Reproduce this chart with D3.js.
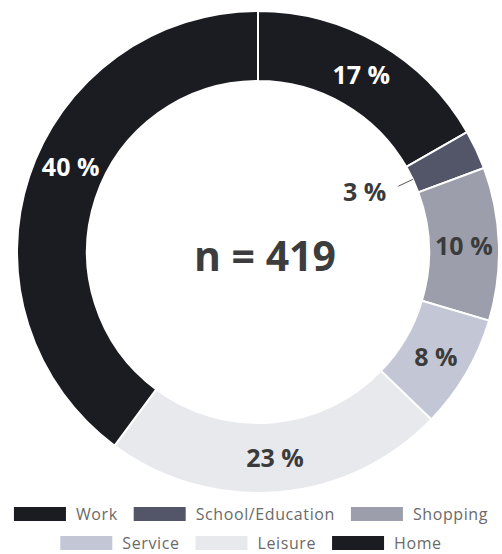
<!DOCTYPE html>
<html>
<head>
<meta charset="utf-8">
<script src="https://cdn.jsdelivr.net/npm/d3@7"></script>
<style>
  html, body { margin: 0; padding: 0; background: #fff; }
  svg { display: block; }
</style>
</head>
<body>
<svg id="chart" width="502" height="554"></svg>
<script>
// Trip purposes (respondent counts)
const categories = ["Work", "School/Education", "Shopping", "Service", "Leisure", "Home"];
const counts = [70, 11, 43, 32, 96, 167];
const colors = ["#1b1c21", "#525668", "#9c9fab", "#c2c6d5", "#e8e9ed", "#1b1c21"];
const labelColors = ["#ffffff", "#3b3b3b", "#3b3b3b", "#3b3b3b", "#3b3b3b", "#ffffff"];

const total = d3.sum(counts);
const data = categories.map((c, i) => ({ name: c, value: counts[i], color: colors[i], text: labelColors[i] }));

const svg = d3.select("#chart");
const cx = 258, cy = 252;
const outerR = 241, innerR = 171;

const pie = d3.pie().value(d => d.value).sort(null);
const arc = d3.arc().innerRadius(innerR).outerRadius(outerR);

const g = svg.append("g").attr("transform", `translate(${cx},${cy})`);
const arcs = pie(data);

g.selectAll("path.slice")
  .data(arcs)
  .join("path")
  .attr("class", "slice")
  .attr("d", arc)
  .attr("fill", d => d.data.color)
  .attr("stroke", "#fff")
  .attr("stroke-width", 2);

const pct = d => Math.round(d.data.value / total * 100) + " %";

// Small slices get their label inside the hole with a leader line
const smallLimit = 0.05;
// Home label sits slightly higher along its ring
const angleShift = { "Home": 0.11 };

arcs.forEach(d => {
  const share = d.data.value / total;
  const mid = (d.startAngle + d.endAngle) / 2 + (angleShift[d.data.name] || 0);
  if (share < smallLimit) {
    const p1 = [Math.sin(mid) * innerR, -Math.cos(mid) * innerR];
    const p2 = [Math.sin(mid) * (innerR - 16), -Math.cos(mid) * (innerR - 16)];
    g.append("line")
      .attr("x1", p1[0]).attr("y1", p1[1])
      .attr("x2", p2[0]).attr("y2", p2[1])
      .attr("stroke", "#555").attr("stroke-width", 1);
    g.append("text")
      .attr("x", p2[0] - 12).attr("y", p2[1] + 8)
      .attr("text-anchor", "end")
      .attr("dominant-baseline", "middle")
      .attr("font-family", "'Open Sans', sans-serif")
      .attr("font-weight", 700)
      .attr("font-size", 25)
      .attr("fill", "#3b3b3b")
      .text(pct(d));
  } else {
    const x = Math.sin(mid) * 206, y = -Math.cos(mid) * 206;
    g.append("text")
      .attr("x", x).attr("y", y)
      .attr("text-anchor", "middle")
      .attr("dominant-baseline", "central")
      .attr("font-family", "'Open Sans', sans-serif")
      .attr("font-weight", 700)
      .attr("font-size", 25)
      .attr("fill", d.data.text)
      .text(pct(d));
  }
});

// Sample size in the centre
g.append("text")
  .attr("x", 7).attr("y", 3)
  .attr("text-anchor", "middle")
  .attr("dominant-baseline", "central")
  .attr("font-family", "'Open Sans', sans-serif")
  .attr("font-weight", 700)
  .attr("font-size", 41)
  .attr("fill", "#3d3d3d")
  .text("n = " + total);

// Legend: flowing rows, centred
const legend = svg.append("g");
const swW = 52, swH = 14, gapText = 10, gapItem = 16, maxW = 482, legCx = 251;
const rowY = [514, 543];
const items = data.map(d => {
  const it = legend.append("g");
  it.append("rect").attr("width", swW).attr("height", swH).attr("y", -swH / 2).attr("fill", d.color);
  const t = it.append("text")
    .attr("x", swW + gapText)
    .attr("dominant-baseline", "central")
    .attr("font-family", "'Open Sans', sans-serif")
    .attr("font-size", 16)
    .attr("letter-spacing", 0.6)
    .attr("fill", "#6a6a6a")
    .text(d.name);
  return { g: it, w: swW + gapText + t.node().getComputedTextLength() };
});
const rows = [[]];
let cur = 0;
items.forEach(it => {
  const add = (rows[rows.length - 1].length ? gapItem : 0) + it.w;
  if (cur + add > maxW && rows[rows.length - 1].length) { rows.push([it]); cur = it.w; }
  else { rows[rows.length - 1].push(it); cur += add; }
});
rows.forEach((row, r) => {
  const width = d3.sum(row, it => it.w) + gapItem * (row.length - 1);
  let x = legCx - width / 2;
  row.forEach(it => {
    it.g.attr("transform", `translate(${x},${rowY[r]})`);
    x += it.w + gapItem;
  });
});
</script>
</body>
</html>
